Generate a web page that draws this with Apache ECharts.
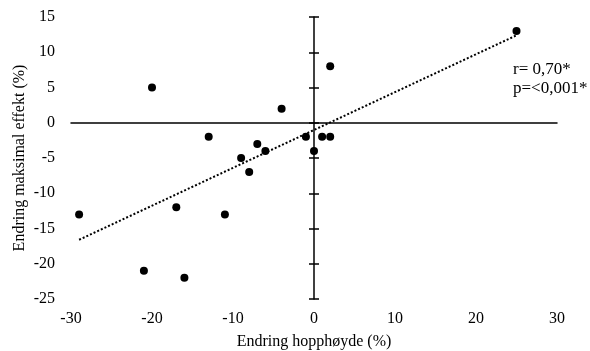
<!DOCTYPE html>
<html>
<head>
<meta charset="utf-8">
<script src="https://cdn.jsdelivr.net/npm/echarts@6/dist/echarts.min.js"></script>
<style>
  html, body { margin: 0; padding: 0; background: #fff; }
  #chart { width: 590px; height: 351px; }
</style>
</head>
<body>
<div id="chart"></div>
<script>
// endring hopphøyde (x) og endring maksimal effekt (y), i prosent
var hoppX = [25, 2, -20, -4, -13, -7, -6, -9, -8, -1, 1, 2, 0, -29, -17, -11, -21, -16];
var effektY = [13, 8, 5, 2, -2, -3, -4, -5, -7, -2, -2, -2, -4, -13, -12, -13, -21, -22];
// trendlinje, endepunkter
var trendX = [-29, 25];
var trendY = [-16.6, 12.4];
var xTicks = [-30, -20, -10, 0, 10, 20, 30];
var yTicks = [-25, -20, -15, -10, -5, 0, 5, 10, 15];
var statTekst = ['r= 0,70*', 'p=<0,001*'];

var font = "'Liberation Serif', 'Times New Roman', serif";
var chart = echarts.init(document.getElementById('chart'));

var pts = hoppX.map(function (x, i) { return [x, effektY[i]]; });
var trend = trendX.map(function (x, i) { return [x, trendY[i]]; });

var xBase = { type: 'value', min: xTicks[0], max: xTicks[xTicks.length - 1], interval: 10, splitLine: { show: false } };
var yBase = { type: 'value', min: yTicks[0], max: yTicks[yTicks.length - 1], interval: 5, splitLine: { show: false } };

var option = {
    animation: false,
    textStyle: { fontFamily: font },
    grid: { left: 71, right: 33, top: 17, bottom: 52, outerBoundsMode: 'none' },
    xAxis: [
        Object.assign({}, xBase, {
            position: 'bottom',
            name: 'Endring hopphøyde (%)',
            nameLocation: 'middle',
            nameGap: 35,
            nameMoveOverlap: false,
            nameTextStyle: { fontFamily: font, fontSize: 16, color: '#000' },
            axisLine: { show: false, onZero: false },
            axisTick: { show: false },
            axisLabel: { fontFamily: font, fontSize: 16, color: '#000', margin: 12 }
        }),
        Object.assign({}, xBase, {
            axisLine: { show: true, onZero: true, lineStyle: { color: '#000', width: 1.5 } },
            axisTick: { show: false },
            axisLabel: { show: false }
        })
    ],
    yAxis: [
        Object.assign({}, yBase, {
            position: 'left',
            name: 'Endring maksimal effekt (%)',
            nameLocation: 'middle',
            nameGap: 43,
            nameMoveOverlap: false,
            nameTextStyle: { fontFamily: font, fontSize: 16, color: '#000' },
            axisLine: { show: false, onZero: false },
            axisTick: { show: false },
            axisLabel: { fontFamily: font, fontSize: 16, color: '#000', margin: 16 }
        }),
        Object.assign({}, yBase, {
            axisLine: { show: true, onZero: true, onZeroAxisIndex: 1, lineStyle: { color: '#000', width: 1.5 } },
            axisTick: { show: true, length: 5, lineStyle: { color: '#000', width: 1.5 } },
            axisLabel: { show: false }
        }),
        Object.assign({}, yBase, {
            axisLine: { show: false, onZero: true, onZeroAxisIndex: 1 },
            axisTick: { show: true, inside: true, length: 5, lineStyle: { color: '#000', width: 1.5 } },
            axisLabel: { show: false }
        })
    ],
    graphic: [{
        type: 'text',
        left: 513,
        top: 60,
        style: {
            text: statTekst.join('\n'),
            font: '17px ' + font,
            lineHeight: 19,
            fill: '#000'
        }
    }],
    series: [
        {
            type: 'line',
            data: trend,
            symbol: 'none',
            lineStyle: { color: '#000', width: 2, type: [2, 2] },
            silent: true,
            z: 1
        },
        {
            type: 'scatter',
            data: pts,
            symbolSize: 8,
            itemStyle: { color: '#000', opacity: 1 },
            z: 3
        }
    ]
};

chart.setOption(option);
window.addEventListener('resize', function () {
    chart.resize();
});
</script>
</body>
</html>
